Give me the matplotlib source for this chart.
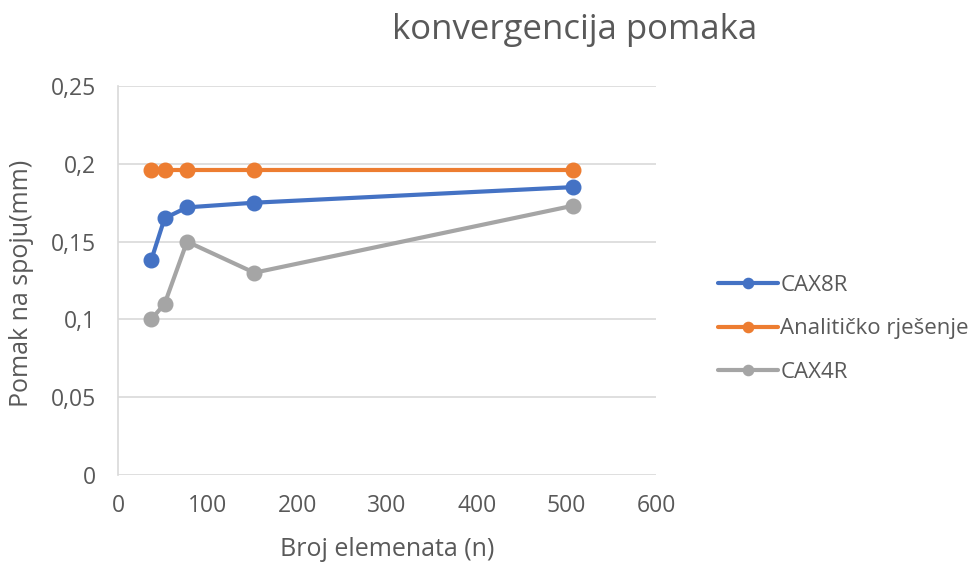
import matplotlib
matplotlib.use("Agg")
import matplotlib.pyplot as plt

# data
n_elem = [37, 52, 77, 152, 507]
cax8r = [0.138, 0.165, 0.172, 0.175, 0.185]
analiticko = [0.196, 0.196, 0.196, 0.196, 0.196]
cax4r = [0.100, 0.110, 0.150, 0.130, 0.173]

y_ticks = [0, 0.05, 0.1, 0.15, 0.2, 0.25]
y_tick_labels = ["0", "0,05", "0,1", "0,15", "0,2", "0,25"]
x_ticks = [0, 100, 200, 300, 400, 500, 600]

plt.rcParams["font.family"] = ["Open Sans", "DejaVu Sans"]
txt = "#595959"

W, H = 977, 565
fig = plt.figure(figsize=(W / 100, H / 100), dpi=100)
ax = fig.add_axes([118 / W, 1 - 475 / H, (656 - 118) / W, (475 - 86) / H])

series = [
    ("CAX8R", cax8r, "#4472C4"),
    ("Analitičko rješenje", analiticko, "#ED7D31"),
    ("CAX4R", cax4r, "#A5A5A5"),
]
handles = []
for name, vals, col in series:
    h, = ax.plot(n_elem, vals, color=col, lw=3, marker="o", ms=10.5,
                 label=name, solid_capstyle="round", zorder=3)
    handles.append(h)

ax.set_xlim(0, 600)
ax.set_ylim(0, 0.25)
ax.set_xticks(x_ticks)
ax.set_yticks(y_ticks)
ax.set_yticklabels(y_tick_labels)
ax.grid(axis="y", color="#D9D9D9", lw=1.2)
ax.set_axisbelow(True)
for s in ["top", "right", "bottom"]:
    ax.spines[s].set_visible(False)
ax.spines["left"].set_color("#D9D9D9")
ax.spines["left"].set_linewidth(1.2)
ax.tick_params(length=0, colors=txt, labelsize=16.5)
ax.tick_params(axis="x", pad=14)
ax.tick_params(axis="y", pad=16)

# axis titles placed like in the Excel original
fig.text(387 / W, 1 - 549 / H, "Broj elemenata (n)", fontsize=18,
         color=txt, ha="center", va="center")
fig.text(22 / W, 1 - 283 / H, "Pomak na spoju(mm)", fontsize=18,
         color=txt, ha="center", va="center", rotation=90)

fig.text(575 / W, 1 - 30 / H, "konvergencija pomaka", fontsize=25,
         color=txt, ha="center", va="center")

fig.legend(handles=handles, loc="center left", bbox_to_anchor=(718 / W, 1 - 329 / H),
           frameon=False, fontsize=16, labelcolor=txt, handlelength=2.7,
           handletextpad=0.1, labelspacing=1.0, markerscale=0.7,
           borderaxespad=0, borderpad=0)

fig.savefig("out.png", dpi=100)
